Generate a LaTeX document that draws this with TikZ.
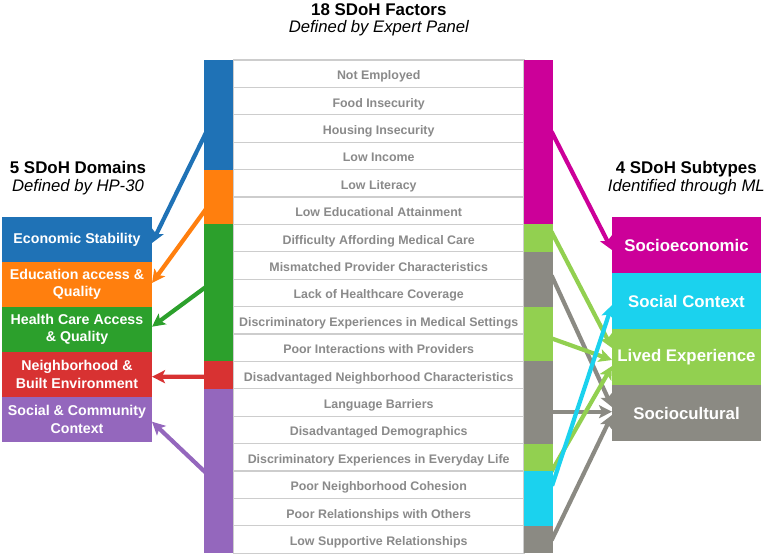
\documentclass[tikz,border=0pt]{standalone}
\usepackage{fontspec}
\setmainfont{Liberation Sans}
\usetikzlibrary{arrows.meta,calc}
\definecolor{cBlue}{HTML}{1F72B6}
\definecolor{cOrange}{HTML}{FF7F0E}
\definecolor{cGreen}{HTML}{2CA02C}
\definecolor{cRed}{HTML}{D83232}
\definecolor{cPurple}{HTML}{9467BD}
\definecolor{cMag}{HTML}{CC0099}
\definecolor{cLG}{HTML}{92D050}
\definecolor{cCyan}{HTML}{1BD2EE}
\definecolor{cGray}{HTML}{8B8A83}
\definecolor{rowtext}{HTML}{8A8A8A}
\definecolor{rowline}{HTML}{CDCDCD}
\pgfdeclarelayer{bg}
\pgfsetlayers{bg,main}
\tikzset{
  lbox/.style={rectangle, inner sep=0pt, outer sep=0pt, minimum width=150pt, minimum height=45pt,
    text=white, align=center, font=\fontsize{14.2}{17.3}\selectfont\bfseries},
  rbox/.style={rectangle, inner sep=0pt, outer sep=0pt, minimum width=149pt, minimum height=56pt,
    text=white, align=center, font=\fontsize{16.8}{20}\selectfont\bfseries},
  rowbox/.style={rectangle, draw=rowline, line width=1.2pt, fill=white, inner sep=0pt, outer sep=0pt,
    minimum width=290.7pt, minimum height=27.4pt, text height=12pt, text depth=0pt,
    text=rowtext, font=\fontsize{12.4}{14}\selectfont\bfseries},
  seg/.style={rectangle, inner sep=0pt, outer sep=0pt, minimum width=29.3pt},
  arr/.style={line width=4.2pt, shorten <=-4pt, -{Stealth[length=13pt,width=13pt,inset=3pt]}},
  ttl/.style={anchor=base, font=\fontsize{16.9}{20}\selectfont\bfseries},
  subttl/.style={anchor=base, font=\fontsize{16.7}{20}\selectfont\itshape},
}
\begin{document}
\begin{tikzpicture}[x=1pt,y=-1pt]
\useasboundingbox (0,0) rectangle (768,555);
% titles
\node[ttl] (t18) at (378.8,15) {18 SDoH Factors};
\node[subttl] (t18s) at (378.8,32.5) {Defined by Expert Panel};
\node[ttl] (t5) at (78,173) {5 SDoH Domains};
\node[subttl] (t5s) at (78,191.5) {Defined by HP-30};
\node[ttl] (t4) at (686.3,173) {4 SDoH Subtypes};
\node[subttl] (t4s) at (686.3,191) {Identified through ML};
% left boxes
\node[lbox, fill=cBlue] (eco) at (77,239.5) {Economic Stability};
\node[lbox, fill=cOrange] (edu) at (77,284.5) {Education access \&\\Quality};
\node[lbox, fill=cGreen] (hca) at (77,329.5) {Health Care Access\\\& Quality};
\node[lbox, fill=cRed] (nbe) at (77,374.5) {Neighborhood \&\\Built Environment};
\node[lbox, fill=cPurple] (scc) at (77,419.5) {Social \& Community\\Context};
% right boxes
\node[rbox, fill=cMag] (soc) at (686.5,245) {Socioeconomic};
\node[rbox, fill=cCyan] (sctx) at (686.5,301) {Social Context};
\node[rbox, fill=cLG] (lived) at (686.5,357) {Lived Experience};
\node[rbox, fill=cGray] (scult) at (686.5,413) {Sociocultural};
% rows
\node[rowbox] (r1) at (378.7,73.7) {Not Employed};
\node[rowbox] (r2) at (378.7,101.1) {Food Insecurity};
\node[rowbox] (r3) at (378.7,128.5) {Housing Insecurity};
\node[rowbox] (r4) at (378.7,155.9) {Low Income};
\node[rowbox] (r5) at (378.7,183.3) {Low Literacy};
\node[rowbox] (r6) at (378.7,210.7) {Low Educational Attainment};
\node[rowbox] (r7) at (378.7,238.1) {Difficulty Affording Medical Care};
\node[rowbox] (r8) at (378.7,265.5) {Mismatched Provider Characteristics};
\node[rowbox] (r9) at (378.7,292.9) {Lack of Healthcare Coverage};
\node[rowbox] (r10) at (378.7,320.3) {Discriminatory Experiences in Medical Settings};
\node[rowbox] (r11) at (378.7,347.7) {Poor Interactions with Providers};
\node[rowbox] (r12) at (378.7,375.1) {Disadvantaged Neighborhood Characteristics};
\node[rowbox] (r13) at (378.7,402.5) {Language Barriers};
\node[rowbox] (r14) at (378.7,429.9) {Disadvantaged Demographics};
\node[rowbox] (r15) at (378.7,457.3) {Discriminatory Experiences in Everyday Life};
\node[rowbox] (r16) at (378.7,484.7) {Poor Neighborhood Cohesion};
\node[rowbox] (r17) at (378.7,512.1) {Poor Relationships with Others};
\node[rowbox] (r18) at (378.7,539.5) {Low Supportive Relationships};
% left bar
\node[seg, fill=cBlue, minimum height=109.6pt] (lb1) at (218.65,114.8) {};
\node[seg, fill=cOrange, minimum height=54.8pt] (lb2) at (218.65,197) {};
\node[seg, fill=cGreen, minimum height=137pt] (lb3) at (218.65,292.9) {};
\node[seg, fill=cRed, minimum height=27.4pt] (lb4) at (218.65,375.1) {};
\node[seg, fill=cPurple, minimum height=164.4pt] (lb5) at (218.65,471) {};
% right bar
\node[seg, fill=cMag, minimum height=164.4pt] (rb1) at (538.65,142.2) {};
\node[seg, fill=cLG, minimum height=27.4pt] (rb2) at (538.65,238.1) {};
\node[seg, fill=cGray, minimum height=54.8pt] (rb3) at (538.65,279.2) {};
\node[seg, fill=cLG, minimum height=54.8pt] (rb4) at (538.65,334) {};
\node[seg, fill=cGray, minimum height=82.2pt] (rb5) at (538.65,402.5) {};
\node[seg, fill=cLG, minimum height=27.4pt] (rb6) at (538.65,457.3) {};
\node[seg, fill=cCyan, minimum height=54.8pt] (rb7) at (538.65,498.4) {};
\node[seg, fill=cGray, minimum height=27.4pt] (rb8) at (538.65,539.5) {};
% connectors
\begin{pgfonlayer}{bg}
\draw[arr, cBlue] ($(lb1.west)+(0,21.9)$) -- ($(eco.east)+(0,3.5)$);
\draw[arr, cOrange] ($(lb2.west)+(0,14.7)$) -- ($(edu.east)+(0,-1.5)$);
\draw[arr, cGreen] ($(lb3.west)+(0,-4.6)$) -- ($(hca.east)+(0,-2.8)$);
\draw[arr, cRed] ($(lb4.west)+(0,1.6)$) -- ($(nbe.east)+(0,2.2)$);
\draw[arr, cPurple] (lb5.west) -- ($(scc.east)+(0,2.2)$);
\draw[arr, cMag] ($(rb1.east)+(0,-7.2)$) -- ($(soc.west)+(0,5)$);
\draw[arr, cLG] ($(rb2.east)+(0,-3)$) -- ($(lived.west)+(0,-9)$);
\draw[arr, cGray] (rb3.east) -- ($(scult.west)+(0,-6)$);
\draw[arr, cLG] ($(rb4.east)+(0,5)$) -- ($(lived.west)+(0,3)$);
\draw[arr, cGray] ($(rb5.east)+(0,9.2)$) -- ($(scult.west)+(0,-1.3)$);
\draw[arr, cLG] ($(rb6.east)+(0,11)$) -- ($(lived.west)+(0,9)$);
\draw[arr, cCyan] ($(rb7.east)+(0,-16.4)$) -- ($(sctx.west)+(0,4)$);
\draw[arr, cGray] ($(rb8.east)+(0,-2.8)$) -- ($(scult.west)+(0,2)$);
\end{pgfonlayer}
\end{tikzpicture}
\end{document}
